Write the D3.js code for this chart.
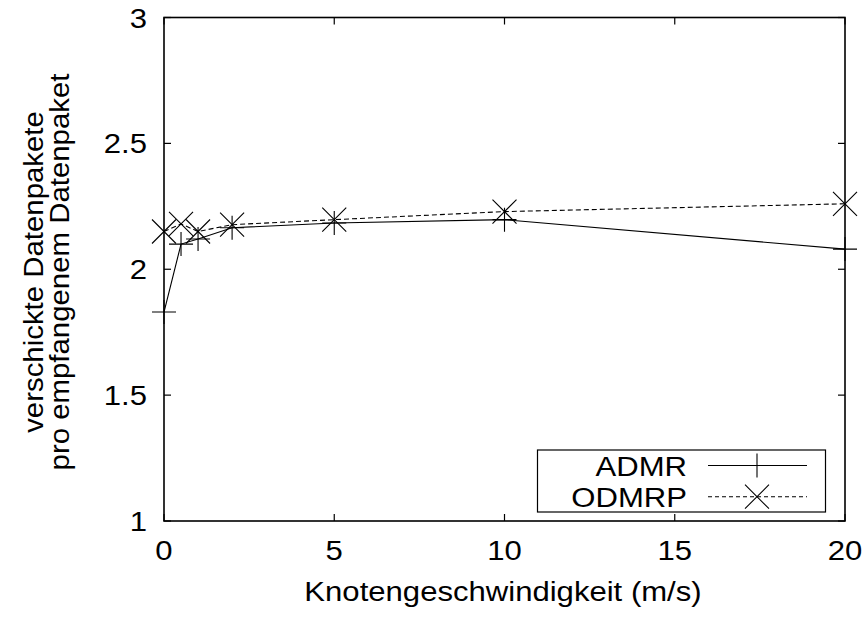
<!DOCTYPE html>
<html>
<head>
<meta charset="utf-8">
<script src="https://cdn.jsdelivr.net/npm/d3@7/dist/d3.min.js"></script>
<style>
  html, body { margin: 0; padding: 0; background: #fff; }
  svg { display: block; }
  text { font-family: "Liberation Sans", Arial, Helvetica, sans-serif; fill: #000; }
</style>
</head>
<body>
<script>
// Node speed (m/s) and packets sent per received data packet
const speeds = [0, 0.5, 1, 2, 5, 10, 20];
const admr   = [1.83, 2.10, 2.12, 2.165, 2.184, 2.197, 2.08];
const odmrp  = [2.15, 2.18, 2.15, 2.177, 2.197, 2.229, 2.26];
const xTicks = [0, 5, 10, 15, 20];
const yTicks = [1, 1.5, 2, 2.5, 3];
const seriesNames = ["ADMR", "ODMRP"];

const W = 865, H = 621;
const plotL = 164, plotR = 845, plotT = 17.5, plotB = 521;
const fontSize = 28;
const stretch = 1.11; // the Helvetica-like face runs a little wider than Liberation Sans

const svg = d3.select("body").append("svg").attr("width", W).attr("height", H);

const x = d3.scaleLinear().domain([0, 20]).range([plotL, plotR]);
const y = d3.scaleLinear().domain([1, 3]).range([plotB, plotT]);

// text placed at (tx, ty), widened horizontally
function label(sel, tx, ty, str, anchor) {
  return sel.append("text")
    .attr("transform", `translate(${tx},${ty}) scale(${stretch},1)`)
    .attr("text-anchor", anchor).attr("font-size", fontSize).text(str);
}

const tickLen = 7;
const g = svg.append("g");

// Inward ticks on all four sides (mirrored)
xTicks.forEach(v => {
  g.append("line").attr("x1", x(v)).attr("x2", x(v)).attr("y1", plotB).attr("y2", plotB - tickLen)
    .attr("stroke", "#000").attr("stroke-width", 1.2);
  g.append("line").attr("x1", x(v)).attr("x2", x(v)).attr("y1", plotT).attr("y2", plotT + tickLen)
    .attr("stroke", "#000").attr("stroke-width", 1.2);
  label(g, x(v), 560, d3.format("d")(v), "middle");
});
yTicks.forEach(v => {
  g.append("line").attr("x1", plotL).attr("x2", plotL + tickLen).attr("y1", y(v)).attr("y2", y(v))
    .attr("stroke", "#000").attr("stroke-width", 1.2);
  g.append("line").attr("x1", plotR).attr("x2", plotR - tickLen).attr("y1", y(v)).attr("y2", y(v))
    .attr("stroke", "#000").attr("stroke-width", 1.2);
  label(g, 147, y(v) + 10, String(v), "end");
});

// Axis titles
label(svg, 503, 601, "Knotengeschwindigkeit (m/s)", "middle");
const yt = svg.append("text").attr("transform", "translate(0,272) rotate(-90) scale(1.05,1)")
  .attr("text-anchor", "middle").attr("font-size", fontSize);
yt.append("tspan").attr("x", 0).attr("y", 43).text("verschickte Datenpakete");
yt.append("tspan").attr("x", 0).attr("y", 69).text("pro empfangenem Datenpaket");

// Data lines
const line = d3.line().x((d, i) => x(speeds[i])).y(d => y(d));
svg.append("path").datum(admr).attr("d", line).attr("fill", "none")
  .attr("stroke", "#000").attr("stroke-width", 1.1);
svg.append("path").datum(odmrp).attr("d", line).attr("fill", "none")
  .attr("stroke", "#000").attr("stroke-width", 1.1).attr("stroke-dasharray", "5,3");

const ms = 12;
function plus(sel, cx, cy) {
  sel.append("path").attr("d", `M${cx - ms},${cy}H${cx + ms}M${cx},${cy - ms}V${cy + ms}`)
    .attr("stroke", "#000").attr("stroke-width", 1.1).attr("fill", "none");
}
function cross(sel, cx, cy) {
  sel.append("path").attr("d", `M${cx - ms},${cy - ms}L${cx + ms},${cy + ms}M${cx - ms},${cy + ms}L${cx + ms},${cy - ms}`)
    .attr("stroke", "#000").attr("stroke-width", 1.1).attr("fill", "none");
}
const marks = svg.append("g");
admr.forEach((v, i) => plus(marks, x(speeds[i]), y(v)));
odmrp.forEach((v, i) => cross(marks, x(speeds[i]), y(v)));

// Legend
const lg = svg.append("g");
lg.append("rect").attr("x", 537.5).attr("y", 450).attr("width", 288).attr("height", 62)
  .attr("fill", "#fff").attr("stroke", "#000").attr("stroke-width", 1.2);
const rows = [465.5, 496.7];
seriesNames.forEach((name, i) => {
  label(lg, 687, rows[i] + 10, name, "end");
  const l = lg.append("line").attr("x1", 708).attr("x2", 807).attr("y1", rows[i]).attr("y2", rows[i])
    .attr("stroke", "#000").attr("stroke-width", 1.1);
  if (i === 1) l.attr("stroke-dasharray", "4,3");
  if (i === 0) plus(lg, 757, rows[i]); else cross(lg, 757, rows[i]);
});

// Frame
svg.append("rect").attr("x", plotL).attr("y", plotT).attr("width", plotR - plotL).attr("height", plotB - plotT)
  .attr("fill", "none").attr("stroke", "#000").attr("stroke-width", 1.6);
</script>
</body>
</html>
